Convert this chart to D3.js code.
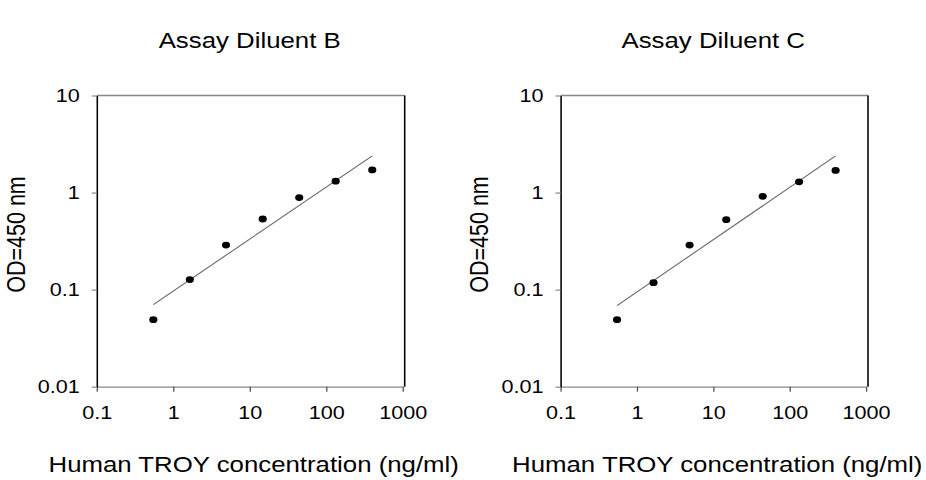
<!DOCTYPE html>
<html>
<head>
<meta charset="utf-8">
<script src="https://cdn.jsdelivr.net/npm/d3@7"></script>
<style>
body { margin: 0; background: #fff; }
svg { display: block; }
text { font-family: "Liberation Sans", Arial, sans-serif; fill: #000; }
</style>
</head>
<body>
<div class="canvas"></div>
<script>
// values
var concentration = [0.55, 1.65, 4.9, 14.8, 44.4, 133, 400];
var odDiluentB = [0.049, 0.127, 0.288, 0.534, 0.887, 1.31, 1.71];
var odDiluentC = [0.049, 0.118, 0.288, 0.526, 0.914, 1.29, 1.69];
var panelTitles = ['Assay Diluent B', 'Assay Diluent C'];
var xTicks = [0.1, 1, 10, 100, 1000];
var yTicks = [0.01, 0.1, 1, 10];
var xTitle = 'Human TROY concentration (ng/ml)';
var yTitle = 'OD=450 nm';

// the original picture is stretched sideways, so the svg is stretched too
var W = 926, H = 480, k = 1.2;

var svg = d3.select('.canvas').append('svg')
    .attr('width', W)
    .attr('height', H)
    .attr('viewBox', '0 0 ' + (W / k) + ' ' + H)
    .attr('preserveAspectRatio', 'none');

// where each panel lives, in page pixels
var panels = [
    { title: panelTitles[0], od: odDiluentB, left: 96.7, right: 402.7 },
    { title: panelTitles[1], od: odDiluentC, left: 560.5, right: 866 }
];
var plotTop = 95.5,
    plotBottom = 386.7;

// straight line fit in log-log space
function logFit(xs, ys) {
    var lx = xs.map(Math.log10),
        ly = ys.map(Math.log10),
        mx = d3.mean(lx),
        my = d3.mean(ly);
    var slope = d3.sum(lx, function (v, i) { return (v - mx) * (ly[i] - my); }) /
                d3.sum(lx, function (v) { return (v - mx) * (v - mx); });
    return function (x) {
        return Math.pow(10, my + slope * (Math.log10(x) - mx));
    };
}

panels.forEach(function (p) {
    var x = d3.scaleLog().domain([0.1, 1000]).range([p.left / k, p.right / k]),
        y = d3.scaleLog().domain([0.01, 10]).range([plotBottom, plotTop]),
        cx = (p.left + p.right) / 2 / k,
        frameRight = (p.right + 2) / k;

    var g = svg.append('g');

    // title
    g.append('text')
        .attr('x', cx)
        .attr('y', 48.5)
        .attr('text-anchor', 'middle')
        .attr('font-size', 21.5)
        .text(p.title);

    // top and right frame
    g.append('line')
        .attr('x1', p.left / k).attr('x2', frameRight)
        .attr('y1', plotTop).attr('y2', plotTop)
        .attr('stroke', '#888').attr('stroke-width', 1.3);
    g.append('line')
        .attr('x1', frameRight).attr('x2', frameRight)
        .attr('y1', plotTop).attr('y2', plotBottom)
        .attr('stroke', '#000').attr('stroke-width', 1.3);

    // axes
    var xAxis = g.append('g')
        .attr('transform', 'translate(0,' + plotBottom + ')')
        .call(d3.axisBottom(x)
            .tickValues(xTicks)
            .tickFormat(String)
            .tickSize(5)
            .tickSizeOuter(0)
            .tickPadding(15));
    xAxis.attr('font-size', 18).attr('font-family', null);
    xAxis.select('.domain').attr('stroke', '#888').attr('stroke-width', 1.3);
    xAxis.selectAll('.tick line').attr('stroke', '#555').attr('stroke-width', 1.1);

    var yAxis = g.append('g')
        .attr('transform', 'translate(' + (p.left / k) + ',0)')
        .call(d3.axisLeft(y)
            .tickValues(yTicks)
            .tickFormat(String)
            .tickSize(5 / k)
            .tickSizeOuter(0)
            .tickPadding(12 / k));
    yAxis.attr('font-size', 18).attr('font-family', null);
    yAxis.select('.domain').attr('stroke', '#000').attr('stroke-width', 1.3);
    yAxis.selectAll('.tick line').attr('stroke', '#888').attr('stroke-width', 1.2);

    // fitted line
    var fit = logFit(concentration, p.od),
        ends = [concentration[0], concentration[concentration.length - 1]];
    g.append('path')
        .datum(ends)
        .attr('fill', 'none')
        .attr('stroke', '#666')
        .attr('stroke-width', 1)
        .attr('d', d3.line()
            .x(function (d) { return x(d); })
            .y(function (d) { return y(fit(d)); }));

    // points
    g.selectAll('circle')
        .data(concentration)
        .enter()
        .append('circle')
        .attr('cx', function (d) { return x(d); })
        .attr('cy', function (d, i) { return y(p.od[i]); })
        .attr('r', 3.4)
        .attr('fill', '#000');

    // axis titles
    g.append('text')
        .attr('x', cx + 4 / k)
        .attr('y', 472.5)
        .attr('text-anchor', 'middle')
        .attr('font-size', 21.5)
        .text(xTitle);

    g.append('text')
        .attr('transform', 'translate(' + ((p.left - 81.5) / k) + ',234.5) rotate(-90)')
        .attr('dy', '0.36em')
        .attr('text-anchor', 'middle')
        .attr('font-size', 21.5)
        .text(yTitle);
});
</script>
</body>
</html>
